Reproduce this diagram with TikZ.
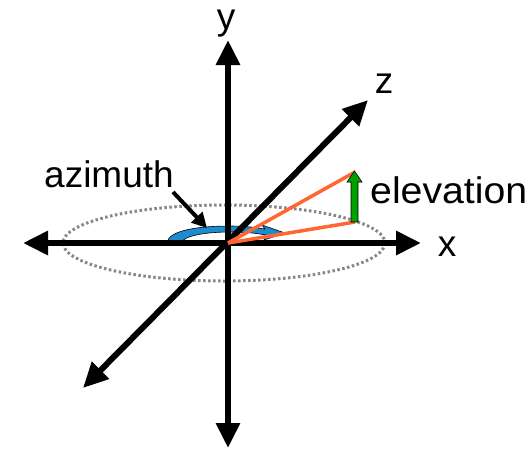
\documentclass[tikz,border=0pt]{standalone}
\usepackage{fontspec}
\setmainfont{Liberation Sans}
\usetikzlibrary{arrows.meta}
\definecolor{orangeline}{RGB}{255,102,51}
\definecolor{azblue}{RGB}{28,140,206}
\definecolor{elgreen}{RGB}{0,160,0}
\definecolor{dotgray}{RGB}{135,135,135}
\tikzset{
  axis/.style={line width=6pt, {Triangle[length=25pt,width=23pt]}-{Triangle[length=25pt,width=23pt]}},
  lbl/.style={inner sep=0pt, font=\fontsize{37}{40}\selectfont},
  rayline/.style={orangeline, line width=3.5pt},
  pointer/.style={line width=4pt, -{Triangle[length=15pt,width=15pt]}},
  dotring/.style={dotgray, line width=3pt, dash pattern=on 2.5pt off 2.5pt},
}
\begin{document}
\begin{tikzpicture}[x=1pt,y=-1pt]
\useasboundingbox (0,0) rectangle (530,451);
\coordinate (O) at (228,243);
\coordinate (xL) at (23,243);
\coordinate (xR) at (421,243);
\coordinate (yT) at (228,40);
\coordinate (yB) at (228,448);
\coordinate (zF) at (83,388);
\coordinate (zB) at (368,100);
\coordinate (P1) at (355,172);
\coordinate (P2) at (355,222);
\coordinate (ptrS) at (173,192);
\coordinate (ptrE) at (207,228);
% dotted ring
\draw[dotring] (224,243) ellipse [x radius=161, y radius=38];
% azimuth curved arrow
\filldraw[fill=azblue, draw=black, line width=0.6pt]
  (167,243) .. controls (168,230) and (200,226) .. (230,226)
  .. controls (248,226) and (258,228) .. (265,229)
  -- (262,225) -- (285,233) -- (264,240) -- (266,235)
  .. controls (255,233) and (245,232) .. (230,232)
  .. controls (205,232) and (183,236) .. (181,243) -- cycle;
% axes
\draw[axis] (xL) -- (xR);
\draw[axis] (yB) -- (yT);
\draw[axis] (zF) -- (zB);
% elevation rays
\draw[rayline] (O) -- (P1);
\draw[rayline] (O) -- (P2);
% green elevation arrow
\filldraw[fill=elgreen, draw=black, line width=0.6pt]
  (351,222) -- (351,182) -- (347,182) -- (354.5,171) -- (362,182) -- (358,182) -- (358,222) -- cycle;
% labels
\node[lbl, anchor=base, text height=0.55em] (ylab) at (226,29) {y};
\node[lbl, anchor=base] (zlab) at (384,93) {z};
\node[lbl, anchor=base] (xlab) at (447,256) {x};
\node[lbl, anchor=base west] (azlab) at (44,187) {azimuth};
\node[lbl, anchor=base west] (ellab) at (370,203) {\scalebox{1.06}[1]{elevation}};
% pointer
\draw[pointer] (ptrS) -- (ptrE);
\end{tikzpicture}
\end{document}
